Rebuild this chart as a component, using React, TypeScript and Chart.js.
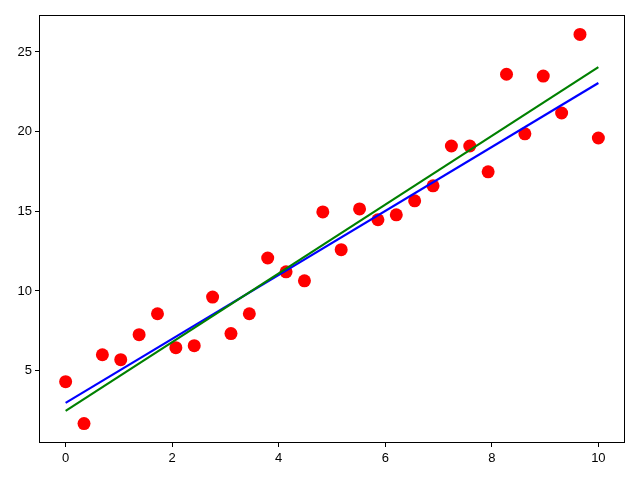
import React, { useEffect, useRef } from "react";
import { Chart, registerables } from "chart.js";

Chart.register(...registerables);

const xValues: number[] = Array.from({ length: 30 }, (_, i) => (i * 10) / 29);
const yValues: number[] = [
  4.31, 1.68, 6.0, 5.69, 7.26, 8.57, 6.44, 6.57, 9.62, 7.33,
  8.57, 12.07, 11.2, 10.64, 14.96, 12.59, 15.15, 14.47, 14.78, 15.66,
  16.6, 19.1, 19.1, 17.48, 23.6, 19.86, 23.49, 21.17, 26.1, 19.6,
];
const blueLine: number[][] = [[0, 2.98], [10, 23.05]];
const greenLine: number[][] = [[0, 2.48], [10, 24.05]];
const xTicks: number[] = [0, 2, 4, 6, 8, 10];
const yTicks: number[] = [5, 10, 15, 20, 25];

const framePlugin = {
  id: "frame",
  afterDraw(chart: any) {
    const { ctx, chartArea } = chart;
    ctx.save();
    ctx.strokeStyle = "#000";
    ctx.lineWidth = 1;
    ctx.strokeRect(Math.round(chartArea.left) + 0.5, Math.round(chartArea.top) + 0.5,
      Math.round(chartArea.right - chartArea.left) - 1, Math.round(chartArea.bottom - chartArea.top) - 1);
    ctx.restore();
  },
};

export default function App() {
  const ref = useRef<HTMLCanvasElement>(null);
  useEffect(() => {
    const font = { family: "'Liberation Sans Narrow', 'Liberation Sans', Arial, sans-serif", size: 13 };
    const chart = new Chart(ref.current!, {
      type: "scatter",
      data: {
        datasets: [
          {
            data: xValues.map((x, i) => ({ x, y: yValues[i] })),
            backgroundColor: "#ff0000",
            borderColor: "#ff0000",
            pointRadius: 6.5,
            borderWidth: 0,
            order: 2,
          },
          {
            type: "line",
            data: blueLine.map(([x, y]) => ({ x, y })),
            borderColor: "#0000ff",
            borderWidth: 2.2,
            pointRadius: 0,
            showLine: true,
            order: 1,
          },
          {
            type: "line",
            data: greenLine.map(([x, y]) => ({ x, y })),
            borderColor: "#008000",
            borderWidth: 2.2,
            pointRadius: 0,
            showLine: true,
            order: 0,
          },
        ] as any,
      },
      options: {
        animation: false,
        responsive: false,
        layout: { padding: { left: 0, top: 15, right: 15, bottom: 0 } },
        plugins: { legend: { display: false }, tooltip: { enabled: false } },
        scales: {
          x: {
            type: "linear",
            min: -0.5,
            max: 10.5,
            afterBuildTicks: (s: any) => { s.ticks = xTicks.map((v) => ({ value: v })); },
            afterFit: (s: any) => { s.height = 37; },
            grid: { drawOnChartArea: false, tickLength: 4, tickColor: "#000" },
            border: { display: false },
            ticks: { color: "#000", font, padding: 4, maxRotation: 0 },
          },
          y: {
            type: "linear",
            min: 0.46,
            max: 27.32,
            afterBuildTicks: (s: any) => { s.ticks = yTicks.map((v) => ({ value: v })); },
            afterFit: (s: any) => { s.width = 39; },
            grid: { drawOnChartArea: false, tickLength: 4, tickColor: "#000" },
            border: { display: false },
            ticks: { color: "#000", font, padding: 3 },
          },
        },
      } as any,
      plugins: [framePlugin],
    });
    return () => chart.destroy();
  }, []);
  return (
    <div style={{ position: "fixed", left: 0, top: 0, width: 640, height: 480, background: "#fff" }}>
      <canvas ref={ref} width={640} height={480} style={{ width: 640, height: 480 }} />
    </div>
  );
}
